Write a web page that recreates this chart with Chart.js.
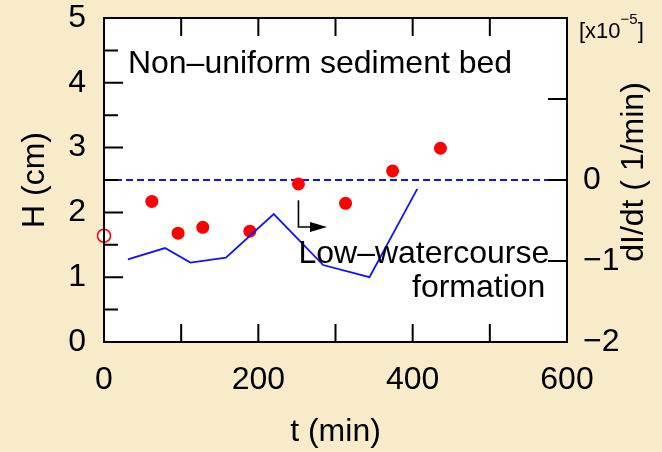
<!DOCTYPE html>
<html>
<head>
<meta charset="utf-8">
<script src="https://cdn.jsdelivr.net/npm/chart.js@4"></script>
<style>
  html, body { margin: 0; padding: 0; background: #f8ebc9; }
  #wrap { width: 662px; height: 452px; }
</style>
</head>
<body>
<div id="wrap"><canvas id="chart" width="662" height="452"></canvas></div>
<script>
// H (cm), left axis
const hTimes = [62, 96, 128, 189, 252, 313, 374, 436];
const hValues = [2.17, 1.68, 1.77, 1.71, 2.44, 2.14, 2.64, 2.99];
const hInitTime = [0];
const hInitValue = [1.64];

// dI/dt (x10^-5 1/min), right axis
const rateTimes = [31, 79, 112, 158, 220, 284, 344, 406];
const rateValues = [-0.98, -0.84, -1.02, -0.96, -0.42, -1.05, -1.20, -0.11];
const zeroLineTimes = [0, 600];
const zeroLineValues = [0, 0];

const xTickLabels = [0, 200, 400, 600];
const rightTickLabels = [-2, -1, 0];

const FONT = "'Liberation Sans', Arial, sans-serif";
const BG = '#f8ebc9';
const FS = 32;

function pts(xs, ys) {
  return xs.map((x, i) => ({ x, y: ys[i] }));
}

function minus(v) {
  return v < 0 ? '\u2212' + Math.abs(v) : String(v);
}

// frame, inward ticks and annotations
const decor = {
  id: 'decor',
  beforeDraw(chart) {
    const { ctx, chartArea: a } = chart;
    ctx.save();
    ctx.fillStyle = BG;
    ctx.fillRect(0, 0, chart.width, chart.height);
    ctx.fillStyle = '#ffffff';
    ctx.fillRect(a.left, a.top, a.right - a.left, a.bottom - a.top);
    ctx.restore();
  },
  afterDraw(chart) {
    const { ctx, chartArea: a } = chart;
    const x = chart.scales.x, y = chart.scales.y, y2 = chart.scales.y2;
    ctx.save();
    ctx.strokeStyle = '#000';
    ctx.lineWidth = 2;
    ctx.beginPath();
    for (let t = 100; t <= 500; t += 100) {
      const px = x.getPixelForValue(t);
      ctx.moveTo(px, a.bottom); ctx.lineTo(px, a.bottom - 18);
      ctx.moveTo(px, a.top); ctx.lineTo(px, a.top + 18);
    }
    for (let h = 0.5; h < 5; h += 0.5) {
      const py = y.getPixelForValue(h);
      const len = Number.isInteger(h) ? 19 : 14;
      ctx.moveTo(a.left, py); ctx.lineTo(a.left + len, py);
    }
    [-1, 0, 1].forEach(v => {
      const py = y2.getPixelForValue(v);
      ctx.moveTo(a.right, py); ctx.lineTo(a.right - 19, py);
    });
    ctx.stroke();
    ctx.strokeRect(a.left, a.top, a.right - a.left, a.bottom - a.top);

    // texts
    ctx.fillStyle = '#000';
    ctx.font = FS + 'px ' + FONT;
    ctx.textBaseline = 'alphabetic';
    ctx.textAlign = 'left';
    ctx.fillText('Non\u2013uniform sediment bed', x.getPixelForValue(31), y.getPixelForValue(4.155));
    ctx.textAlign = 'right';
    ctx.fillText('Low\u2013watercourse', x.getPixelForValue(577), y2.getPixelForValue(-1.02));
    ctx.fillText('formation', x.getPixelForValue(572), y2.getPixelForValue(-1.44));

    // arrow
    const ax = x.getPixelForValue(252);
    const ay0 = y2.getPixelForValue(-0.25);
    const ay1 = y2.getPixelForValue(-0.58);
    const ax1 = x.getPixelForValue(289);
    ctx.lineWidth = 1.6;
    ctx.beginPath();
    ctx.moveTo(ax, ay0); ctx.lineTo(ax, ay1); ctx.lineTo(ax1 - 14, ay1);
    ctx.stroke();
    ctx.beginPath();
    ctx.moveTo(ax1, ay1); ctx.lineTo(ax1 - 17, ay1 - 5); ctx.lineTo(ax1 - 17, ay1 + 5);
    ctx.closePath();
    ctx.fill();

    // right axis title
    ctx.save();
    ctx.translate(634, (a.top + a.bottom) / 2 - 8);
    ctx.rotate(-Math.PI / 2);
    ctx.textAlign = 'center';
    ctx.textBaseline = 'middle';
    ctx.font = FS + 'px ' + FONT;
    ctx.fillText('dI/dt ( 1/min)', 0, 0);
    ctx.restore();

    // multiplier
    ctx.textAlign = 'left';
    ctx.textBaseline = 'alphabetic';
    ctx.font = '22px ' + FONT;
    ctx.fillText('[x10', 579, 38);
    const w = ctx.measureText('[x10').width;
    ctx.font = '15px ' + FONT;
    ctx.fillText('\u22125', 579 + w, 24);
    const w2 = ctx.measureText('\u22125').width;
    ctx.font = '22px ' + FONT;
    ctx.fillText(']', 579 + w + w2, 38);
    ctx.restore();
  }
};

function fixV(width) {
  return s => { s.width = width; s.paddingTop = 0; s.paddingBottom = 0; };
}

const ctx = document.getElementById('chart').getContext('2d');
const chart = new Chart(ctx, {
  type: 'scatter',
  data: {
    datasets: [
      {
        label: 'dI/dt',
        data: pts(rateTimes, rateValues),
        yAxisID: 'y2',
        showLine: true,
        borderColor: '#0a14ff',
        borderWidth: 1.8,
        pointRadius: 0,
        tension: 0,
        order: 0
      },
      {
        label: 'H',
        data: pts(hTimes, hValues),
        yAxisID: 'y',
        backgroundColor: '#ff0000',
        borderWidth: 0,
        pointRadius: 6.5,
        order: 1
      },
      {
        label: 'H initial',
        data: pts(hInitTime, hInitValue),
        yAxisID: 'y',
        backgroundColor: '#ffffff',
        borderColor: '#ff0000',
        borderWidth: 1.6,
        pointRadius: 6.5,
        clip: false,
        order: 1
      },
      {
        label: 'zero',
        data: pts(zeroLineTimes, zeroLineValues),
        yAxisID: 'y2',
        showLine: true,
        borderColor: '#0a14ff',
        borderWidth: 2,
        borderDash: [7, 4],
        pointRadius: 0,
        order: 2
      }
    ]
  },
  options: {
    responsive: false,
    animation: false,
    devicePixelRatio: 1,
    layout: { padding: { top: 18, left: 0, right: 0, bottom: 0 } },
    plugins: { legend: { display: false }, tooltip: { enabled: false } },
    scales: {
      x: {
        type: 'linear',
        min: 0, max: 600,
        afterBuildTicks: s => { s.ticks = xTickLabels.map(v => ({ value: v })); },
        afterFit: s => { s.height = 110; s.paddingLeft = 0; s.paddingRight = 0; },
        ticks: { color: '#000', font: { family: FONT, size: FS }, padding: 19, maxRotation: 0 },
        grid: { display: false, drawTicks: false },
        border: { display: false },
        title: { display: true, text: 't (min)', color: '#000', font: { family: FONT, size: FS }, padding: { top: 0, bottom: 1 } }
      },
      y: {
        position: 'left',
        min: 0, max: 5,
        ticks: { stepSize: 1, color: '#000', font: { family: FONT, size: FS }, padding: 18 },
        afterFit: fixV(104),
        grid: { display: false, drawTicks: false },
        border: { display: false },
        title: { display: true, text: 'H (cm)', color: '#000', font: { family: FONT, size: FS }, padding: { top: 16, bottom: 0 } }
      },
      y2: {
        position: 'right',
        min: -2, max: 2,
        afterBuildTicks: s => { s.ticks = rightTickLabels.map(v => ({ value: v })); },
        ticks: { color: '#000', font: { family: FONT, size: FS }, padding: 16, callback: v => minus(v) },
        afterFit: fixV(95),
        grid: { display: false, drawTicks: false },
        border: { display: false }
      }
    }
  },
  plugins: [decor]
});
</script>
</body>
</html>
